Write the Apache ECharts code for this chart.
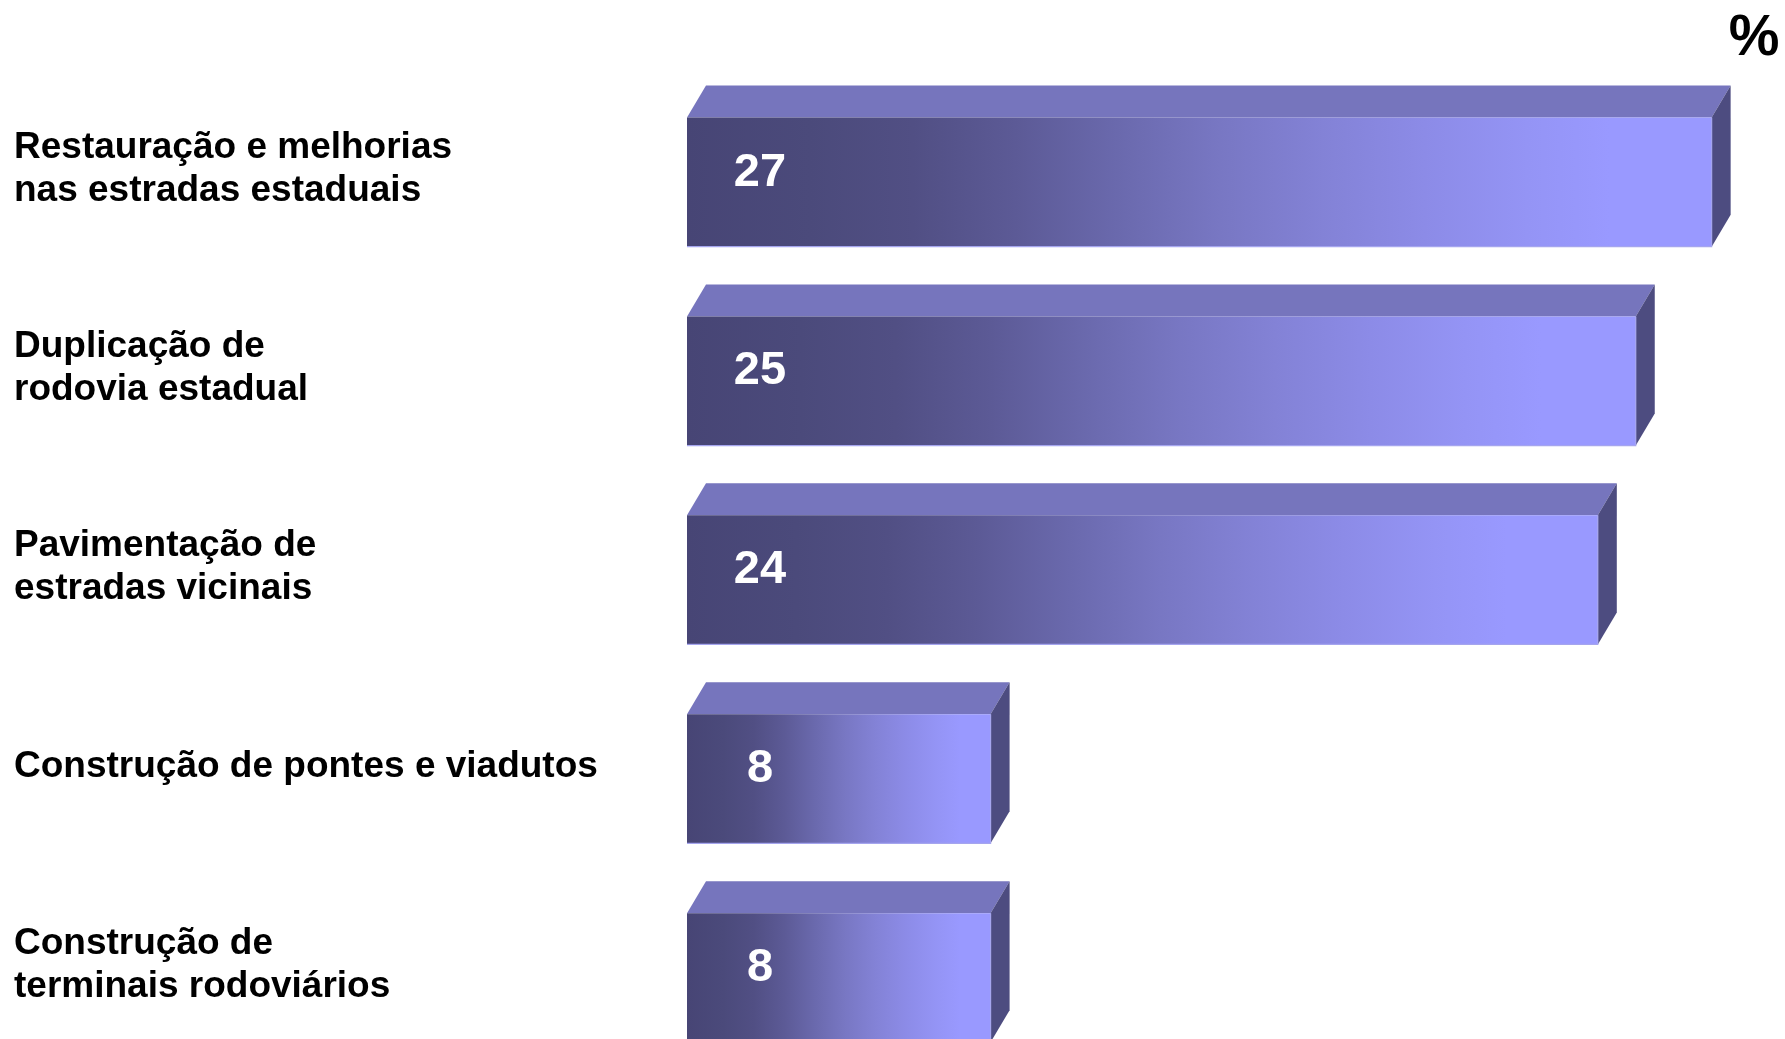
<!DOCTYPE html>
<html>
<head>
<meta charset="utf-8">
<script src="https://cdn.jsdelivr.net/npm/echarts@6/dist/echarts.min.js"></script>
<style>
html,body{margin:0;padding:0;background:#fff;}
#chart{width:1785px;height:1039px;}
</style>
</head>
<body>
<div id="chart"></div>
<script>
const categories = [
  "Restauração e melhorias\nnas estradas estaduais",
  "Duplicação de\nrodovia estadual",
  "Pavimentação de\nestradas vicinais",
  "Construção de pontes e viadutos",
  "Construção de\nterminais rodoviários"
];
const values = [27, 25, 24, 8, 8];
const unitLabel = "%";

const chart = echarts.init(document.getElementById('chart'), null, {renderer: 'canvas'});

const FONT = '"Liberation Sans", Arial, Helvetica, sans-serif';

const frontGradient = new echarts.graphic.LinearGradient(0, 0, 1, 0, [
  {offset: 0, color: '#474575'},
  {offset: 0.12, color: '#4b4a7b'},
  {offset: 0.22, color: '#514f84'},
  {offset: 0.32, color: '#5c5a96'},
  {offset: 0.42, color: '#6a69ad'},
  {offset: 0.52, color: '#7877c3'},
  {offset: 0.62, color: '#8382d6'},
  {offset: 0.72, color: '#8c8be7'},
  {offset: 0.82, color: '#9494f5'},
  {offset: 0.9, color: '#9999ff'},
  {offset: 1, color: '#9999ff'}
]);

function renderItem(params, api) {
  const v = api.value(0);
  const idx = api.value(1);
  const p0 = api.coord([0, idx]);
  const p1 = api.coord([v, idx]);
  const band = api.size([0, 1])[1];
  const h = band * 0.649;
  const x0 = p0[0], x1 = p1[0];
  const yt = p0[1] - h / 2, yb = p0[1] + h / 2;
  const dx = 19, dy = 32;
  return {
    type: 'group',
    children: [
      {type: 'polygon', shape: {points: [[x0, yt], [x0 + dx, yt - dy], [x1 + dx, yt - dy], [x1, yt]]},
       style: {fill: '#7675bd'}},
      {type: 'polygon', shape: {points: [[x1, yt], [x1 + dx, yt - dy], [x1 + dx, yb - dy], [x1, yb]]},
       style: {fill: '#4d4c80'}},
      {type: 'rect', shape: {x: x0, y: yt, width: x1 - x0, height: h},
       style: {fill: frontGradient}},
      {type: 'polyline', shape: {points: [[x0, yb], [x1, yb], [x1, yt]]},
       style: {stroke: '#a5a5ee', lineWidth: 1.2, fill: null}},
      {type: 'text', x: x0 + 73, y: p0[1] - 9.5,
       style: {text: String(v), fill: '#ffffff', fontSize: 47, fontWeight: 'bold',
               fontFamily: FONT, align: 'center', verticalAlign: 'middle'}},
      {type: 'text', x: x0 - 673, y: p0[1] - 12.5,
       style: {text: categories[idx], fill: '#000000', fontSize: 37, fontWeight: 'bold', lineHeight: 43,
               fontFamily: FONT, align: 'left', verticalAlign: 'middle'}}
    ]
  };
}

const option = {
  animation: false,
  backgroundColor: '#ffffff',
  grid: {left: 687, top: 82.65, width: 28 * 37.95, height: 994.5, outerBoundsMode: 'none', containLabel: false},
  xAxis: {type: 'value', min: 0, max: 28, show: false},
  yAxis: {
    type: 'category',
    data: categories,
    inverse: true,
    axisLine: {show: false},
    axisTick: {show: false},
    splitLine: {show: false},
    axisLabel: {show: false}
  },
  graphic: [{
    type: 'text', x: 1754, y: 39,
    style: {text: unitLabel, fill: '#000', fontSize: 57, fontWeight: 'bold', fontFamily: FONT,
            align: 'center', verticalAlign: 'middle'}
  }],
  series: [{
    type: 'custom',
    renderItem: renderItem,
    encode: {x: 0, y: 1},
    data: values.map((v, i) => [v, i])
  }]
};
chart.setOption(option);
</script>
</body>
</html>
